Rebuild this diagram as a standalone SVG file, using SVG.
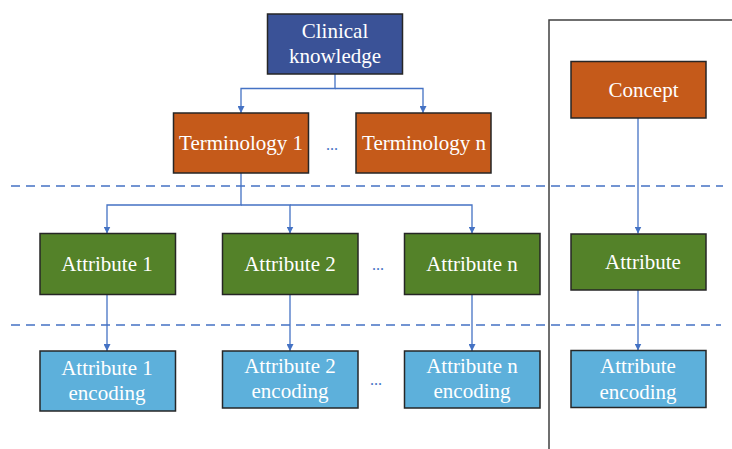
<svg xmlns="http://www.w3.org/2000/svg" width="732" height="449" viewBox="0 0 732 449">
<style>
.box{stroke:#262626;stroke-width:1.5}
.kb{fill:#3A5297}.or{fill:#C55A1A}.gr{fill:#548229}.lb{fill:#5DB0DB}
text{font-family:"Liberation Serif","DejaVu Serif",serif;font-size:21px;fill:#ffffff;text-anchor:middle}
.dots{fill:#4472C4;font-size:16px}
.c{fill:none;stroke:#4472C4;stroke-width:1.3}
.dash{fill:none;stroke:#4472C4;stroke-width:1.3;stroke-dasharray:9 6}
.div{fill:none;stroke:#404040;stroke-width:1.5}
</style>
<defs>
<marker id="ah" viewBox="0 0 10 10" refX="10" refY="5" markerWidth="7" markerHeight="7" markerUnits="userSpaceOnUse" orient="auto">
<path d="M0,0 L10,5 L0,10 z" fill="#4472C4"/>
</marker>
</defs>
<g id="separators">
<path class="div" d="M549,449 V20 H732"/>
<path class="dash" d="M11,186 H723"/>
<path class="dash" d="M11,325 H721"/>
</g>
<g id="connectors">
<path class="c" d="M335,74 V88.5 H241 V113" marker-end="url(#ah)"/>
<path class="c" d="M335,88.5 H423 V113" marker-end="url(#ah)"/>
<path class="c" d="M241,173 V205 H107 V233.5" marker-end="url(#ah)"/>
<path class="c" d="M241,205 H290 V233.5" marker-end="url(#ah)"/>
<path class="c" d="M290,205 H472 V233.5" marker-end="url(#ah)"/>
<path class="c" d="M107,294.5 V351" marker-end="url(#ah)"/>
<path class="c" d="M290,294.5 V351" marker-end="url(#ah)"/>
<path class="c" d="M472,294.5 V351" marker-end="url(#ah)"/>
<path class="c" d="M638,118 V233.5" marker-end="url(#ah)"/>
<path class="c" d="M638,290 V350.5" marker-end="url(#ah)"/>
</g>
<g id="clinical">
<rect class="box kb" x="267.5" y="14" width="135" height="60"/>
<text x="335" y="38">Clinical</text>
<text x="335" y="63">knowledge</text>
</g>
<g id="term1">
<rect class="box or" x="173.5" y="113" width="135" height="60"/>
<text x="241" y="150">Terminology 1</text>
</g>
<text class="dots" x="332" y="150">...</text>
<g id="termn">
<rect class="box or" x="356" y="113" width="135" height="60"/>
<text x="424" y="150">Terminology n</text>
</g>
<g id="attr1">
<rect class="box gr" x="40" y="233.5" width="135.5" height="61"/>
<text x="107" y="271">Attribute 1</text>
</g>
<g id="attr2">
<rect class="box gr" x="222.5" y="233.5" width="135.5" height="61"/>
<text x="290" y="271">Attribute 2</text>
</g>
<text class="dots" x="378" y="270">...</text>
<g id="attrn">
<rect class="box gr" x="404.5" y="233.5" width="135.5" height="61"/>
<text x="472" y="271">Attribute n</text>
</g>
<g id="enc1">
<rect class="box lb" x="40" y="351" width="135.5" height="60"/>
<text x="107" y="375">Attribute 1</text>
<text x="107" y="400">encoding</text>
</g>
<g id="enc2">
<rect class="box lb" x="222.5" y="351" width="135.5" height="57"/>
<text x="290" y="372.5">Attribute 2</text>
<text x="290" y="397.5">encoding</text>
</g>
<text class="dots" x="376" y="385">...</text>
<g id="encn">
<rect class="box lb" x="404.5" y="351" width="135.5" height="57"/>
<text x="472" y="372.5">Attribute n</text>
<text x="472" y="397.5">encoding</text>
</g>
<g id="concept">
<rect class="box or" x="571" y="61.5" width="135" height="56.5"/>
<text x="643.5" y="96.5">Concept</text>
</g>
<g id="attribute">
<rect class="box gr" x="571" y="234" width="135" height="56"/>
<text x="643" y="269">Attribute</text>
</g>
<g id="attrenc">
<rect class="box lb" x="571" y="350.5" width="135" height="57"/>
<text x="638" y="372.5">Attribute</text>
<text x="638" y="398.5">encoding</text>
</g>
</svg>
